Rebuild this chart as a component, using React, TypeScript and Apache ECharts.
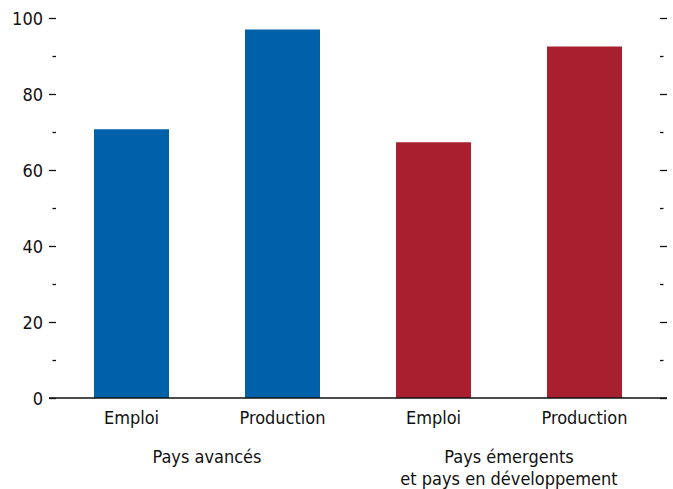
import React, { useEffect, useRef } from "react";
import * as echarts from "echarts";

const categories = ["Emploi", "Production", "Emploi", "Production"];
const groups = ["Pays avancés", "Pays émergents\net pays en développement"];
const advancedValues = [70.7, 97];
const emergingValues = [67.3, 92.5];
const yTicks = { min: 0, max: 100, interval: 20 };

const BLUE = "#0060A9";
const RED = "#A81F2F";
const FONT = "'DejaVu Sans Condensed', 'Liberation Sans', sans-serif";
const INK = "#111111";

export default function App() {
  const ref = useRef<HTMLDivElement>(null);
  useEffect(() => {
    if (!ref.current) return;
    const chart = echarts.init(ref.current, undefined, { renderer: "svg" });
    const barData = [
      { value: advancedValues[0], itemStyle: { color: BLUE } },
      { value: advancedValues[1], itemStyle: { color: BLUE } },
      { value: emergingValues[0], itemStyle: { color: RED } },
      { value: emergingValues[1], itemStyle: { color: RED } },
    ];
    const yAxisCommon = {
      type: "value" as const,
      min: yTicks.min,
      max: yTicks.max,
      interval: yTicks.interval,
      splitLine: { show: false },
      axisLine: { show: false },
      axisTick: { show: true, length: 7, lineStyle: { color: INK, width: 1.3 } },
      minorTick: { show: true, splitNumber: 2, length: 3.5, lineStyle: { color: INK, width: 1.3 } },
    };
    chart.setOption({
      animation: false,
      grid: { left: 56, right: 13, top: 18, bottom: 87, containLabel: false },
      xAxis: [
        {
          type: "category",
          data: categories,
          axisLine: { show: false },
          axisTick: { show: false },
          axisLabel: { color: INK, fontFamily: FONT, fontSize: 18, margin: 10 },
        },
        {
          type: "category",
          data: groups,
          position: "bottom",
          offset: 37,
          axisLine: { show: false },
          axisTick: { show: false },
          axisLabel: { color: INK, fontFamily: FONT, fontSize: 18, margin: 10, lineHeight: 22 },
        },
      ],
      yAxis: [
        {
          ...yAxisCommon,
          position: "left",
          axisLabel: { color: INK, fontFamily: FONT, fontSize: 18, margin: 13 },
        },
        {
          ...yAxisCommon,
          position: "right",
          axisLabel: { show: false },
        },
      ],
      series: [
        {
          type: "bar",
          data: barData,
          barWidth: 75,
          xAxisIndex: 0,
          yAxisIndex: 0,
        },
      ],
    });
    const y0 = chart.convertToPixel({ yAxisIndex: 0 }, 0) as number;
    const w = ref.current.clientWidth;
    chart.setOption({
      graphic: [
        {
          type: "line",
          shape: { x1: 49, y1: y0, x2: w - 6, y2: y0 },
          style: { stroke: INK, lineWidth: 1.5 },
          z: 10,
        },
      ],
    });
    return () => chart.dispose();
  }, []);
  return <div ref={ref} style={{ width: 673, height: 489, position: "absolute", left: 0, top: 0 }} />;
}
